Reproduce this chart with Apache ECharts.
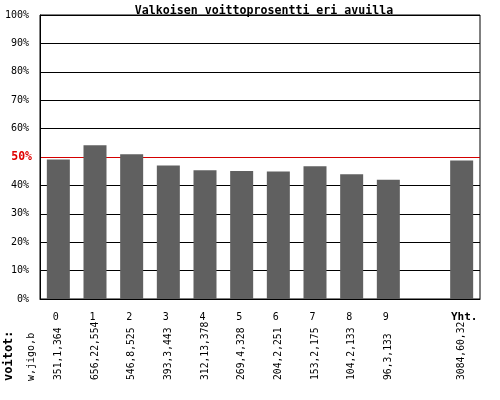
<!DOCTYPE html>
<html>
<head>
<meta charset="utf-8">
<script src="https://cdn.jsdelivr.net/npm/echarts@6/dist/echarts.min.js"></script>
<style>html,body{margin:0;padding:0;background:#fff}#c{width:500px;height:400px}</style>
</head>
<body>
<div id="c"></div>
<script>
const categories = ['0','1','2','3','4','5','6','7','8','9','','Yht.'];
const winPercent = [49.1, 54.1, 51.0, 47.0, 45.3, 45.1, 44.9, 46.7, 43.9, 42.0, null, 48.8];
const countLabels = ['351,1,364','656,22,554','546,8,525','393,3,443','312,13,378','269,4,328','204,2,251','153,2,175','104,2,133','96,3,133','','3084,60,3232'];
const yTicks = [0,10,20,30,40,50,60,70,80,90,100];
const FONT = 'DejaVu Sans Mono';

const chart = echarts.init(document.getElementById('c'), null, {renderer:'canvas'});
const splitColors = yTicks.map(v => v === 50 ? '#d40000' : '#000000');
chart.setOption({
  animation: false,
  backgroundColor: '#ffffff',
  title: {
    text: 'Valkoisen voittoprosentti eri avuilla',
    left: 259, top: 0, textAlign: 'center',
    textStyle: {fontFamily: FONT, fontSize: 11.6, fontWeight: 'bold', color: '#000'}
  },
  grid: {left: 40, right: 20, top: 15, bottom: 101, show: true, borderColor: '#000', borderWidth: 1, backgroundColor: 'transparent'},
  xAxis: [{
    type: 'category', data: categories, position: 'bottom',
    axisLine: {show: true, lineStyle: {color: '#000'}},
    axisTick: {show: false},
    axisLabel: {
      interval: 0, margin: 13, fontFamily: FONT, fontSize: 10, color: '#000',
      padding: [0, 5, 0, 0],
      formatter: v => v === 'Yht.' ? '{b|' + v + '}' : v,
      rich: {b: {fontFamily: FONT, fontSize: 11, fontWeight: 'bold', color: '#000', padding: [0, 0, 0, 10]}}
    }
  }, {
    type: 'category', data: countLabels, position: 'bottom', offset: 0,
    axisLine: {show: false}, axisTick: {show: false},
    axisLabel: {
      interval: 0, rotate: 90, margin: 81, align: 'left', verticalAlign: 'middle',
      fontFamily: FONT, fontSize: 9.7, color: '#000',
      width: 63, overflow: 'truncate', ellipsis: ''
    }
  }],
  yAxis: {
    type: 'value', min: 0, max: 100, interval: 10,
    axisLine: {show: true, lineStyle: {color: '#000'}},
    axisTick: {show: false},
    splitLine: {show: true, lineStyle: {color: splitColors, width: 1}},
    axisLabel: {
      margin: 11, fontFamily: FONT, fontSize: 10, color: '#000',
      formatter: v => v === 50 ? '{r|' + v + '%}' : v + '%',
      rich: {r: {fontFamily: FONT, fontSize: 11.5, fontWeight: 'bold', color: '#e00000', padding: [0, -3, 0, 0]}}
    }
  },
  series: [{
    type: 'bar', data: winPercent, barWidth: 23,
    itemStyle: {color: '#606060'}, z: 3
  }],
  graphic: [
    {type: 'text', x: 9, y: 381, rotation: Math.PI / 2,
     style: {text: 'voitot:', fontFamily: FONT, fontSize: 12, fontWeight: 'bold', fill: '#000', align: 'left', verticalAlign: 'middle'}},
    {type: 'text', x: 31, y: 381, rotation: Math.PI / 2,
     style: {text: 'w,jigo,b', fontFamily: FONT, fontSize: 10, fill: '#000', align: 'left', verticalAlign: 'middle'}}
  ]
});
</script>
</body>
</html>
